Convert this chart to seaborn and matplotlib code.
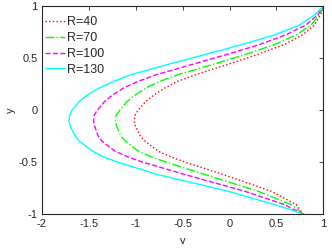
import numpy as np
import pandas as pd
import matplotlib
matplotlib.use("Agg")
import matplotlib.pyplot as plt
import seaborn as sns

# y positions (shared by all curves), bottom wall -> top wall
y_vals = [-1.0, -0.96, -0.907, -0.779, -0.619, -0.5, -0.45, -0.394, -0.298, -0.25,
          -0.15, -0.106, -0.05, 0.0, 0.086, 0.15, 0.213, 0.275, 0.341, 0.436,
          0.532, 0.627, 0.723, 0.818, 0.914, 0.96, 1.0]

# velocity v at the y positions above
v_r40 = [0.79, 0.755, 0.712, 0.448, -0.064, -0.47, -0.62, -0.76, -0.90, -0.95,
         -1.005, -1.017, -1.01, -0.975, -0.89, -0.80, -0.69, -0.56, -0.36, -0.03,
         0.29, 0.575, 0.78, 0.905, 0.97, 0.99, 1.0]
v_r70 = [0.79, 0.735, 0.659, 0.307, -0.258, -0.67, -0.83, -0.97, -1.11, -1.16,
         -1.205, -1.218, -1.21, -1.17, -1.09, -1.0, -0.89, -0.75, -0.55, -0.19,
         0.16, 0.47, 0.71, 0.87, 0.955, 0.985, 1.0]
v_r100 = [0.79, 0.70, 0.589, 0.166, -0.47, -0.92, -1.08, -1.22, -1.36, -1.40,
          -1.44, -1.45, -1.445, -1.41, -1.33, -1.24, -1.13, -0.98, -0.78, -0.41,
          -0.04, 0.31, 0.60, 0.815, 0.94, 0.975, 1.0]
v_r130 = [0.79, 0.67, 0.483, -0.011, -0.76, -1.19, -1.34, -1.46, -1.60, -1.645,
          -1.70, -1.712, -1.705, -1.68, -1.60, -1.51, -1.39, -1.24, -1.05, -0.67,
          -0.27, 0.12, 0.48, 0.748, 0.906, 0.96, 1.0]

labels = ["R=40", "R=70", "R=100", "R=130"]
series = [v_r40, v_r70, v_r100, v_r130]
colors = ["#ff0000", "#00ff00", "#ff00ff", "#00ffff"]
styles = [":", "-.", "--", "-"]

sns.set_theme(style="white")
plt.rcParams["font.family"] = ["Liberation Sans", "DejaVu Sans"]
plt.rcParams["axes.unicode_minus"] = False

fig = plt.figure(figsize=(3.32, 2.49), dpi=100)
ax = fig.add_axes([0.1265, 0.139, 0.8475, 0.837])

for lab, v, c, ls in zip(labels, series, colors, styles):
    df = pd.DataFrame({"v": v, "y": y_vals})
    sns.lineplot(data=df, x="v", y="y", sort=False, estimator=None,
                 color=c, linestyle=ls, linewidth=1.0, label=lab, ax=ax)

ax.set_xlim(-2, 1)
ax.set_ylim(-1, 1)
ax.set_xticks(np.arange(-2, 1.01, 0.5))
ax.set_yticks([-1, -0.5, 0, 0.5, 1])
ax.set_xticklabels(["-2", "-1.5", "-1", "-0.5", "0", "0.5", "1"])
ax.set_yticklabels(["-1", "-0.5", "0", "0.5", "1"])
ax.tick_params(direction="in", length=3, width=0.6, labelsize=8,
               top=True, right=True, colors="#262626", pad=3)
for s in ax.spines.values():
    s.set_color("#262626")
    s.set_linewidth(0.8)
ax.set_xlabel("v", fontsize=8, labelpad=5)
ax.set_ylabel("y", fontsize=8, labelpad=2)

ax.legend(loc="upper left", bbox_to_anchor=(0.011, 0.95), frameon=False,
          fontsize=9, handlelength=1.6, handletextpad=0.15, labelspacing=0.3,
          borderaxespad=0.0, borderpad=0.0)

fig.savefig("out.png", dpi=100)
